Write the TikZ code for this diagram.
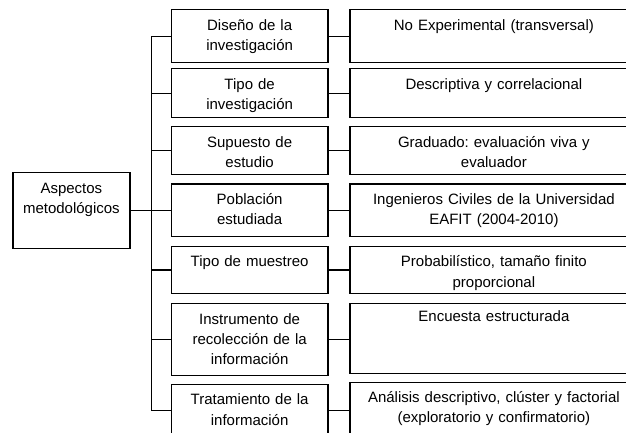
\documentclass[tikz,border=0pt]{standalone}
\usepackage{fontspec}
\setmainfont{Liberation Sans}
\frenchspacing

\begin{document}
\begin{tikzpicture}[x=1pt, y=-1pt, line width=1.2pt,
    box/.style={draw, inner sep=0pt, anchor=north west, align=center, text height=20.5pt, font=\fontsize{15}{20.3}\selectfont},
    aspect/.style={box, text width=156.5pt},
    detail/.style={box, text width=288pt}]
    \useasboundingbox (0, 0) rectangle (626, 433);

    \node at (12.3, 172) [box, text width=117pt, text depth=55.7pt] (am) {Aspectos\\metodológicos};

    \node at (170.8, 9.3) [aspect, text depth=32.5pt] (a_1) {Diseño de la\\investigación};
    \node at (170.8, 68.3) [aspect, text depth=28.5pt] (a_2) {Tipo de\\investigación};
    \node at (170.8, 126) [aspect, text depth=27.5pt] (a_3) {Supuesto de\\estudio};
    \node at (170.8, 183.3) [aspect, text depth=31.9pt] (a_4) {Población\\estudiada};
    \node at (170.8, 245.7) [aspect, text depth=26.8pt] (a_5) {Tipo de muestreo};
    \node at (170.8, 303) [aspect, text depth=51.2pt] (a_6) {Instrumento de\\recolección de la\\información};
    \node at (170.8, 383.7) [aspect, text depth=32pt] (a_7) {Tratamiento de la\\información};

    \node at (349.3, 9.3) [detail, text depth=32.5pt] (d_1) {No Experimental (transversal)};
    \node at (349.3, 68.3) [detail, text depth=28.5pt] (d_2) {Descriptiva y correlacional};
    \node at (349.3, 126) [detail, text depth=27.5pt] (d_3) {Graduado: evaluación viva y\\evaluador};
    \node at (349.3, 183.3) [detail, text depth=31.9pt] (d_4) {Ingenieros Civiles de la Universidad\\EAFIT (2004-2010)};
    \node at (349.3, 245.7) [detail, text depth=26.8pt] (d_5) {Probabilístico, tamaño finito\\proporcional};
    \node at (349.3, 303) [detail, text height=18pt, text depth=51.7pt] (d_6) {Encuesta estructurada};
    \node at (349.3, 381.5) [detail, text depth=32pt] (d_7) {Análisis descriptivo, clúster y factorial\\(exploratorio y confirmatorio)};

    \coordinate (trunk) at (151.7, 0);

    \draw (am.east) -- (am.east -| trunk);
    \draw (a_1.west -| trunk) -- (a_7.west -| trunk);

    \draw (a_1.west -| trunk) -- (a_1.west);
    \draw (a_2.west -| trunk) -- (a_2.west);
    \draw (a_3.west -| trunk) -- (a_3.west);
    \draw (a_4.west -| trunk) -- (a_4.west);
    \draw (a_5.west -| trunk) -- (a_5.west);
    \draw (a_6.west -| trunk) -- (a_6.west);
    \draw (a_7.west -| trunk) -- (a_7.west);

    \draw (a_1.east) -- (d_1.west |- a_1.east);
    \draw (a_2.east) -- (d_2.west |- a_2.east);
    \draw (a_3.east) -- (d_3.west |- a_3.east);
    \draw (a_4.east) -- (d_4.west |- a_4.east);
    \draw (a_5.east) -- (d_5.west |- a_5.east);
    \draw (a_6.east) -- (d_6.west |- a_6.east);
    \draw (a_7.east) -- (d_7.west |- a_7.east);

\end{tikzpicture}
\end{document}
